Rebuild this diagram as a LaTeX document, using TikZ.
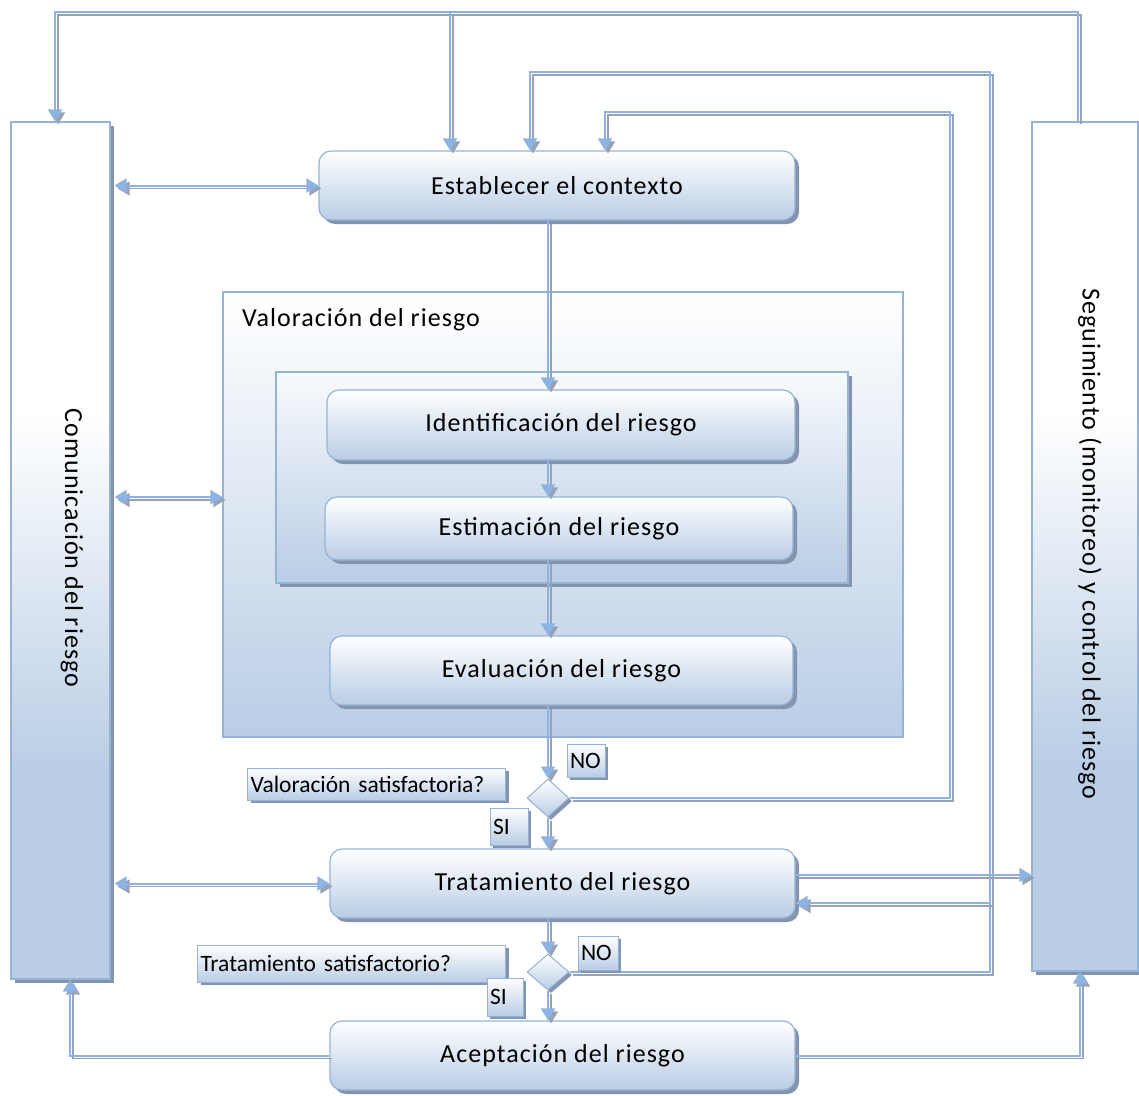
\documentclass[tikz,border=0pt]{standalone}
\usepackage{fontspec}
\setmainfont{Carlito}
\newfontfamily\spacedfont[LetterSpace=4]{Carlito}
\usetikzlibrary{arrows.meta,shapes.geometric,shadows}

\definecolor{lineblue}{RGB}{141,179,226}
\definecolor{linegray}{RGB}{152,162,178}
\definecolor{boxedge}{RGB}{149,179,215}
\definecolor{boxbot}{RGB}{185,205,229}
\definecolor{boxshade}{RGB}{132,148,172}

% columns: white upper part fading into blue lower part
\pgfdeclareverticalshading{colshade}{100bp}{%
  color(0bp)=(boxbot); color(25bp)=(boxbot); color(37bp)=(boxbot);
  color(58bp)=(white); color(75bp)=(white); color(100bp)=(white)}

\begin{document}
\begin{tikzpicture}[x=1pt,y=-1pt,
  >={Triangle[width=14pt,length=12pt]},
  bigfont/.style={font=\spacedfont\fontsize{26}{30}\selectfont},
  smallfont/.style={font=\fontsize{23.5}{26}\selectfont},
  boxshadow/.style={general shadow={fill=boxshade, shadow xshift=#1, shadow yshift=-#1}},
  stepbox/.style={rectangle, rounded corners=12pt, draw=boxedge, line width=1.2pt,
    top color=white, bottom color=boxbot, boxshadow=4pt, bigfont, inner sep=0pt},
  colbox/.style={rectangle, draw=boxedge, line width=1.2pt, shading=colshade, boxshadow=4pt},
  coltext/.style={rotate=-90, bigfont, inner sep=0pt},
  frame/.style={rectangle, draw=boxedge, line width=1.2pt, top color=white, bottom color=boxbot},
  decision/.style={diamond, draw=boxedge, line width=1pt, top color=white, bottom color=boxbot,
    boxshadow=3pt, inner sep=0pt, minimum width=42pt},
  tag/.style={rectangle, draw=boxedge, line width=1pt, top color=white, bottom color=boxbot,
    boxshadow=3pt, smallfont, inner xsep=3pt, inner ysep=0pt, align=left},
  conn/.style={draw=lineblue, line width=2pt,
    preaction={draw=linegray, line width=1.6pt, transform canvas={shift={(3pt,-3pt)}}}},
]
\useasboundingbox (0,0) rectangle (1139,1095);

% side columns
\node[colbox, minimum width=99pt, minimum height=857pt] (com) at (60.5,550.5) {};
\node[coltext] (comtxt) at (72,548) {Comunicación del riesgo};
\node[colbox, minimum width=106pt, minimum height=849pt] (seg) at (1085,546.5) {};
\node[coltext] (segtxt) at (1090,544) {Seguimiento (monitoreo) y control del riesgo};

% risk assessment frames
\node[frame, minimum width=680pt, minimum height=445pt] (val) at (563,514.5) {};
\node[bigfont, anchor=west, inner sep=0pt] (valtxt) at (242,320) {Valoración del riesgo};
\node[frame, boxshadow=4pt, top color={white!90!boxbot}, minimum width=572pt, minimum height=211pt] (inn) at (562,477.5) {};

% process steps
\node[stepbox, minimum width=476pt, minimum height=69pt] (est) at (557,185.5) {Establecer el contexto};
\node[stepbox, minimum width=468pt, minimum height=70pt] (ide) at (561,425) {Identificación del riesgo};
\node[stepbox, minimum width=468pt, minimum height=63pt] (esti) at (559,528.5) {Estimación del riesgo};
\node[stepbox, minimum width=463pt, minimum height=69pt] (eva) at (561.5,670.5) {Evaluación del riesgo};
\node[stepbox, minimum width=465pt, minimum height=69pt] (tra) at (562.5,883.5) {Tratamiento del riesgo};
\node[stepbox, minimum width=465pt, minimum height=69pt] (ace) at (562.5,1055.5) {Aceptación del riesgo};

% decisions
\node[decision, minimum height=38pt] (d1) at (548,798) {};
\node[decision, minimum height=36pt] (d2) at (548,972) {};

% guide lines for the connectors
\coordinate (yTop) at (0,12);
\coordinate (yLoopA) at (0,72);
\coordinate (yLoopB) at (0,112);
\coordinate (yVal) at (0,497);
\coordinate (yTraOut) at (0,875);
\coordinate (yTraIn) at (0,903);
\coordinate (xCom) at (55,0);
\coordinate (xSeg) at (1078,0);
\coordinate (xEstA) at (450,0);
\coordinate (xEstB) at (530,0);
\coordinate (xEstC) at (605,0);
\coordinate (xLoopA) at (990,0);
\coordinate (xLoopB) at (950,0);
\coordinate (xMain) at (548,0);
\coordinate (xAceL) at (70,0);
\coordinate (xAceR) at (1080,0);

% feedback from monitoring
\draw[conn,->] (seg.north -| xSeg) -- (yTop -| xSeg) -- (yTop -| xCom) -- (com.north -| xCom);
\draw[conn,->] (yTop -| xEstA) -- (est.north -| xEstA);
% treatment not satisfactory
\draw[conn,->] (d2.east) -- (d2.east -| xLoopA) -- (yLoopA -| xLoopA) -- (yLoopA -| xEstB) -- (est.north -| xEstB);
\draw[conn,->] (yTraIn -| xLoopA) -- (yTraIn -| tra.east);
% assessment not satisfactory
\draw[conn,->] (d1.east) -- (d1.east -| xLoopB) -- (yLoopB -| xLoopB) -- (yLoopB -| xEstC) -- (est.north -| xEstC);
% links to the side columns
\draw[conn,->] (yTraOut -| tra.east) -- (yTraOut -| seg.west);
\draw[conn,->] (ace.east) -| (xAceR |- seg.south);
\draw[conn,->] (ace.west) -| (xAceL |- com.south);
\draw[conn,<->,shorten <=4pt] (est.west -| com.east) -- (est.west);
\draw[conn,<->,shorten <=4pt] (yVal -| com.east) -- (yVal -| val.west);
\draw[conn,<->,shorten <=4pt] (tra.west -| com.east) -- (tra.west);
% main flow
\draw[conn,->] (est.south -| xMain) -- (ide.north -| xMain);
\draw[conn,->] (ide.south -| xMain) -- (esti.north -| xMain);
\draw[conn,->] (esti.south -| xMain) -- (eva.north -| xMain);
\draw[conn,->] (eva.south -| xMain) -- (d1.north);
\draw[conn,->] (d1.south) -- (tra.north -| xMain);
\draw[conn,->] (tra.south -| xMain) -- (d2.north);
\draw[conn,->] (d2.south) -- (ace.north -| xMain);

% decision labels
\node[tag, anchor=west, text width=252pt, minimum height=32pt] (q1) at (247,784) {Valoración satisfactoria?};
\node[tag, text width=32pt, minimum height=33pt] (no1) at (586,760.5) {NO};
\node[tag, text width=32pt, minimum height=37pt] (si1) at (509,826.5) {SI};
\node[tag, anchor=west, text width=302pt, minimum height=37pt] (q2) at (197,963.5) {Tratamiento satisfactorio?};
\node[tag, text width=34pt, minimum height=34pt] (no2) at (598,953) {NO};
\node[tag, text width=30pt, minimum height=38pt] (si2) at (505,997) {SI};
\end{tikzpicture}
\end{document}
